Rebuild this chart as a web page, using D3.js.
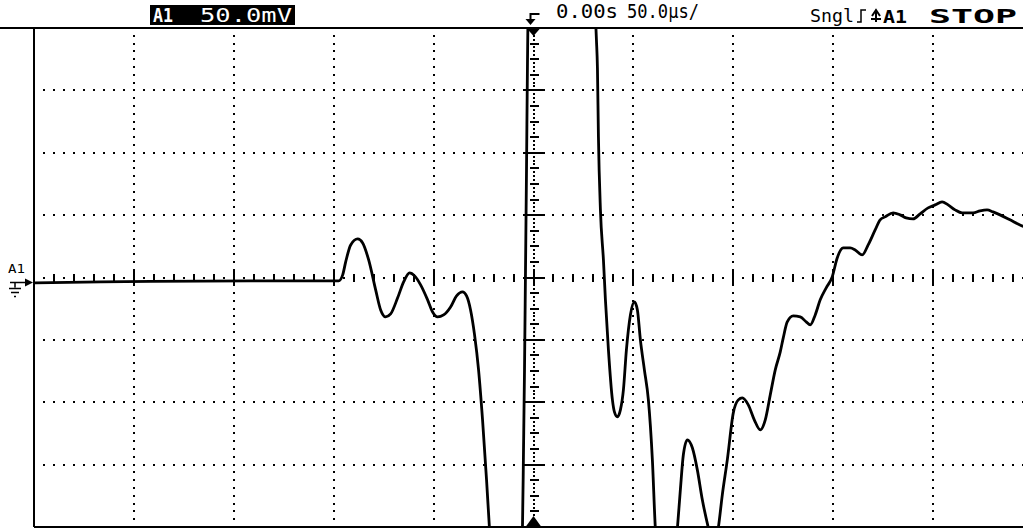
<!DOCTYPE html>
<html>
<head>
<meta charset="utf-8">
<script src="https://cdn.jsdelivr.net/npm/d3@7"></script>
<style>
  body { margin: 0; background: #fff; }
  svg { display: block; }
  text { font-family: "DejaVu Sans Mono", monospace; }
</style>
</head>
<body>
<div id="scope"></div>
<script>
// channel A1, 50.0 mV/div, 50.0 us/div, trigger at 0 s
var channel = "A1";
var voltsLabel = "50.0mV";
var timeLabel = "0.00s";
var timebaseLabel = "50.0\u00b5s/";
var modeLabel = "Sngl";
var runLabel = "STOP";

// division lines (us and mV)
var timeDivs = [-200, -150, -100, -50, 50, 100, 150, 200];
var voltDivs = [-150, -100, -50, 50, 100, 150];

// trace samples (us, mV); values past +/-200 mV are off screen
var traceTime = [-249.5, -216.5, -191.5, -141.5, -100, -97.5, -95.5, -94, -91.5, -88, -85.5, -82.5,
  -79, -76.5, -74, -71.5, -68, -65, -62, -59.5, -56.5, -53, -50.5, -48, -45, -41.5, -38.5, -35.5,
  -33.5, -31.5, -29.5, -27.5, -25.5, -23.5, -22, -20, -14, -7.5, -6, -5.5, -5, -4.5, -4, -3.5, -3,
  -2.5, 1, 13.5, 26, 30.5, 31.5, 32, 32.5, 33.5, 35, 36, 37.5, 39.5, 40.5, 42, 43.5, 45, 46.5, 48.5,
  50.5, 52, 53.5, 55.5, 57.5, 59.5, 61, 63.5, 67.5, 70.5, 72, 73.5, 75, 77, 79.5, 82, 84.5, 87.5,
  90, 92.5, 94.5, 97, 100, 102.5, 104.5, 107.5, 110.5, 113.5, 116, 118.5, 121, 123.5, 125, 127,
  130, 133.5, 136.5, 138.5, 141, 143.5, 146.5, 149.5, 152, 155, 158.5, 161, 164.5, 167.5, 171,
  173.5, 176, 180, 183.5, 186.5, 190, 193.5, 197.5, 201, 204.5, 207.5, 211, 214.5, 220, 223.5,
  227, 230, 233.5, 238.5, 243.5, 246];
var traceVolt = [-4.3, -3.5, -3.1, -2.7, -2.7, -2.7, 2.1, 12.5, 26.1, 30.9, 27.7, 14.1,
  -9.9, -26, -31.6, -29.2, -16.3, -3.5, 3.7, 1.3, -5.9, -17.9, -27.6, -31.6, -30, -23.6, -14.7, -11.5,
  -14.7, -26, -46, -74, -114.1, -162.2, -202.2, -250.3, -266.4, -242.3, -210.3, -198.3, -138.2, -74.2, 6.1, 86.2, 174.4,
  230.4, 286.5, 302.5, 270.4, 222.4, 190.4, 168, 112.6, 54, 14.1, -17.9, -58, -98.1, -107.7, -111.7, -106.1, -90.1, -58, -30,
  -19.6, -26, -50, -74, -98.1, -146.2, -201.4, -234.3, -246.3, -226.3, -201.4, -170.2, -142.1, -130.1, -136.5, -154.2, -178.2, -200.6,
  -216.6, -200.6, -174.2, -146.2, -108.5, -98.1, -96.5, -102.1, -114.1, -122.1, -114.1, -94.1, -74, -59.6, -48.4, -35.6,
  -30.8, -31.6, -35.6, -38, -30, -17.9, -8.3, 0.5, 15.7, 23.7, 23.7, 22.1, 18.1, 26.1, 38.1,
  46.2, 48.6, 51.8, 50.2, 47.8, 47, 51, 55.8, 58.2, 60.6, 58.2, 54.2, 51.8, 51.8, 53.4,
  54.2, 52.6, 50.2, 46.2, 42.1, 40.5];

var width = 1023, height = 529;

var svg = d3.select("#scope")
  .append("svg")
    .attr("width", width)
    .attr("height", height);

// screen: 10 x 8 divisions, right edge runs past the picture
var x = d3.scaleLinear().domain([-250, 250]).range([34, 1033]);
var y = d3.scaleLinear().domain([-200, 200]).range([527, 28]);

var grid = svg.append("g").attr("shape-rendering", "crispEdges");

// dotted division lines
timeDivs.forEach(function(t) {
  grid.selectAll(null)
    .data(d3.range(-200 + 6.25, 200, 6.25))
    .enter().append("rect")
      .attr("x", x(t) - 1).attr("y", function(d) { return y(d) - 1; })
      .attr("width", 2).attr("height", 2).attr("fill", "#000");
});
voltDivs.forEach(function(v) {
  grid.selectAll(null)
    .data(d3.range(-250 + 5, 250, 5))
    .enter().append("rect")
      .attr("x", function(d) { return x(d) - 1; }).attr("y", y(v) - 1)
      .attr("width", 2).attr("height", 2).attr("fill", "#000");
});

// centre horizontal axis: dots, minor ticks every 0.2 div
var hTicks = d3.range(-250 + 5, 250, 5);
grid.selectAll(null)
  .data(hTicks)
  .enter().append("rect")
    .attr("x", function(d) { return x(d) - 1; })
    .attr("y", function(d) {
      if (d % 50 == 0) return y(0) - 7;
      if (d % 10 == 0) return y(0) - 4;
      return y(0) - 1;
    })
    .attr("width", 2)
    .attr("height", function(d) {
      if (d % 50 == 0) return 14;
      if (d % 10 == 0) return 8;
      return 2;
    })
    .attr("fill", "#000");

// centre vertical axis: dots, minor ticks every 0.25 div
var vTicks = d3.range(-200 + 3.125, 200, 3.125);
grid.selectAll(null)
  .data(vTicks)
  .enter().append("rect")
    .attr("x", function(d) {
      if (d % 50 == 0) return x(0) - 11;
      if (d % 12.5 == 0) return x(0) - 4;
      return x(0) - 1;
    })
    .attr("y", function(d) { return y(d) - 1; })
    .attr("width", function(d) {
      if (d % 50 == 0) return 22;
      if (d % 12.5 == 0) return 9;
      return 2;
    })
    .attr("height", 2)
    .attr("fill", "#000");

// frame
svg.append("line").attr("x1", 0).attr("x2", width).attr("y1", y(200)).attr("y2", y(200))
  .attr("stroke", "#000").attr("stroke-width", 2);
svg.append("line").attr("x1", x(-250)).attr("x2", width).attr("y1", y(-200)).attr("y2", y(-200))
  .attr("stroke", "#000").attr("stroke-width", 2);
svg.append("line").attr("x1", x(-250)).attr("x2", x(-250)).attr("y1", y(200)).attr("y2", y(-200))
  .attr("stroke", "#000").attr("stroke-width", 2);

// trace, clipped to the screen
svg.append("clipPath").attr("id", "screen")
  .append("rect")
    .attr("x", x(-250)).attr("y", y(200))
    .attr("width", x(250) - x(-250)).attr("height", y(-200) - y(200));

var trace = traceTime.map(function(t, i) { return {t: t, v: traceVolt[i]}; });

var line = d3.line()
  .curve(d3.curveMonotoneX)
  .x(function(d) { return x(d.t); })
  .y(function(d) { return y(d.v); });

svg.append("path")
  .datum(trace)
  .attr("clip-path", "url(#screen)")
  .attr("fill", "none")
  .attr("stroke", "#000")
  .attr("stroke-width", 2.8)
  .attr("stroke-linejoin", "round")
  .attr("d", line);

// trigger position markers
var tx = x(0);
svg.append("path")
  .attr("d", "M" + (tx - 7) + "," + y(200) + "L" + (tx + 7) + "," + y(200) + "L" + tx + "," + (y(200) + 8) + "Z")
  .attr("fill", "#000");
svg.append("path")
  .attr("d", "M" + (tx - 8) + "," + y(-200) + "L" + (tx + 8) + "," + y(-200) + "L" + tx + "," + (y(-200) - 11) + "Z")
  .attr("fill", "#000");
svg.append("path")
  .attr("d", "M" + (tx + 6) + ",14 L" + (tx - 3) + ",14 L" + (tx - 3) + ",20")
  .attr("fill", "none").attr("stroke", "#000").attr("stroke-width", 2);
svg.append("path")
  .attr("d", "M" + (tx - 8) + ",19 L" + (tx + 2) + ",19 L" + (tx - 3) + ",25 Z")
  .attr("fill", "#000");

// channel marker on the left
var gy = y(-4);
svg.append("text").attr("x", 8).attr("y", gy - 9)
  .attr("font-size", 12).attr("textLength", 17).attr("lengthAdjust", "spacingAndGlyphs")
  .text(channel);
svg.append("path")
  .attr("d", "M" + 25 + "," + (gy - 4) + "L" + 33 + "," + gy + "L" + 25 + "," + (gy + 4) + "Z")
  .attr("fill", "#000");
svg.append("path")
  .attr("d", "M10," + gy + "H26 M15," + gy + "V" + (gy + 5) +
    " M9," + (gy + 6) + "H21 M11," + (gy + 10) + "H19 M14," + (gy + 14) + "H16")
  .attr("fill", "none").attr("stroke", "#000").attr("stroke-width", 1.5);

// header
svg.append("rect").attr("x", 150).attr("y", 5).attr("width", 145).attr("height", 20).attr("fill", "#000");
svg.append("text").attr("x", 153).attr("y", 22).attr("fill", "#fff")
  .attr("font-size", 19).attr("font-weight", "bold")
  .attr("textLength", 20).attr("lengthAdjust", "spacingAndGlyphs")
  .text(channel);
svg.append("text").attr("x", 200).attr("y", 22).attr("fill", "#fff")
  .attr("font-size", 19)
  .attr("textLength", 92).attr("lengthAdjust", "spacingAndGlyphs")
  .text(voltsLabel);

svg.append("text").attr("x", 556).attr("y", 18)
  .attr("font-size", 19)
  .attr("textLength", 62).attr("lengthAdjust", "spacingAndGlyphs")
  .text(timeLabel);
svg.append("text").attr("x", 627).attr("y", 18)
  .attr("font-size", 19)
  .attr("textLength", 72).attr("lengthAdjust", "spacingAndGlyphs")
  .text(timebaseLabel);

svg.append("text").attr("x", 810).attr("y", 22)
  .attr("font-size", 18)
  .attr("textLength", 44).attr("lengthAdjust", "spacingAndGlyphs")
  .text(modeLabel);
// rising slope symbol
svg.append("path")
  .attr("d", "M857,22 H861 V10 H866")
  .attr("fill", "none").attr("stroke", "#000").attr("stroke-width", 1.5);
svg.append("path")
  .attr("d", "M876,22 V12 M872,16 L876,10 L880,16 M871,19 H881")
  .attr("fill", "none").attr("stroke", "#000").attr("stroke-width", 2);
svg.append("text").attr("x", 883).attr("y", 23)
  .attr("font-size", 18).attr("font-weight", "bold")
  .attr("textLength", 24).attr("lengthAdjust", "spacingAndGlyphs")
  .text(channel);
svg.append("text").attr("x", 929).attr("y", 23)
  .attr("font-size", 19).attr("font-weight", "bold")
  .attr("textLength", 88).attr("lengthAdjust", "spacingAndGlyphs")
  .text(runLabel);
</script>
</body>
</html>
